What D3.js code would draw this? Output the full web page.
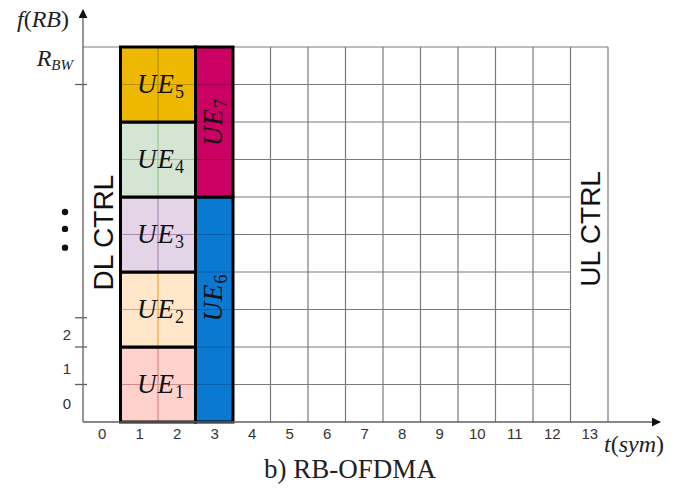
<!DOCTYPE html>
<html>
<head>
<meta charset="utf-8">
<script src="https://cdn.jsdelivr.net/npm/d3@7"></script>
<style>
  body { margin: 0; background: #fff; }
  svg { display: block; }
</style>
</head>
<body>
<svg id="chart" width="686" height="490"></svg>
<script>
"use strict"

// ---- data ----
const xTickLabels = ["0", "1", "2", "3", "4", "5", "6", "7", "8", "9", "10", "11", "12", "13"];
const nRows = 10;

// resource blocks, in columns (symbols) and rows (RBs)
const ueNames = ["1", "2", "3", "4", "5", "6", "7"];
const ueColStart = [1, 1, 1, 1, 1, 3, 3];
const ueColEnd = [3, 3, 3, 3, 3, 4, 4];
const ueRowStart = [0, 2, 4, 6, 8, 0, 6];
const ueRowEnd = [2, 4, 6, 8, 10, 6, 10];
const ueVertical = [false, false, false, false, false, true, true];
const ueFill = ["#ffd1cc", "#ffe6c9", "#e3d5e7", "#d5e5d3", "#efb800", "#0a79d2", "#cc0062"];
const ueGrid = ["#d08a88", "#f0a830", "#a88ab8", "#9cc494", "#b59000", "#0a5ea8", "#9a0050"];

// y axis marks
const yTickMarks = [1, 2, 2.78, 9];
const yTickLabels = ["0", "1", "2"];
const yTickLabelPos = [0.5, 1.45, 2.35];
const dotPos = [5.6, 5.15, 4.65];

// ---- layout ----
const svg = d3.select("#chart");
const x = d3.scaleLinear().domain([0, 14]).range([83, 608]);
const y = d3.scaleLinear().domain([0, nRows]).range([422, 47]);
const gridColor = "#7a7a7a";
const axisColor = "#606060";
const serif = "Liberation Serif, serif";
const sans = "Liberation Sans, Arial, sans-serif";

// arrow marker
svg.append("defs").append("marker")
    .attr("id", "arrow")
    .attr("viewBox", "0 0 10 10")
    .attr("refX", 9).attr("refY", 5)
    .attr("markerWidth", 9).attr("markerHeight", 9)
    .attr("markerUnits", "userSpaceOnUse")
    .attr("orient", "auto")
    .append("path")
    .attr("d", "M0,0 L10,5 L0,10 z")
    .attr("fill", "#111");

const grid = svg.append("g");

// horizontal grid lines in the free area (columns 4..12)
grid.selectAll("line.h")
    .data(d3.range(1, nRows))
    .join("line")
    .attr("x1", x(4)).attr("x2", x(13))
    .attr("y1", d => y(d)).attr("y2", d => y(d))
    .attr("stroke", gridColor).attr("stroke-width", 1.2);

// top border line
grid.append("line")
    .attr("x1", x(0)).attr("x2", x(14))
    .attr("y1", y(nRows)).attr("y2", y(nRows))
    .attr("stroke", gridColor).attr("stroke-width", 1.2);

// vertical grid lines
grid.selectAll("line.v")
    .data(d3.range(1, 15))
    .join("line")
    .attr("x1", d => x(d)).attr("x2", d => x(d))
    .attr("y1", y(0)).attr("y2", y(nRows))
    .attr("stroke", gridColor).attr("stroke-width", 1.2);

// UE blocks
const blocks = svg.append("g");
ueNames.forEach((name, i) => {
    const g = blocks.append("g");
    const x0 = x(ueColStart[i]), x1 = x(ueColEnd[i]);
    const y0 = y(ueRowEnd[i]), y1 = y(ueRowStart[i]);

    g.append("rect")
        .attr("x", x0).attr("y", y0)
        .attr("width", x1 - x0).attr("height", y1 - y0)
        .attr("fill", ueFill[i]);

    // inner grid lines tinted with the block color
    g.selectAll("line.ih")
        .data(d3.range(ueRowStart[i] + 1, ueRowEnd[i]))
        .join("line")
        .attr("x1", x0).attr("x2", x1)
        .attr("y1", d => y(d)).attr("y2", d => y(d))
        .attr("stroke", ueGrid[i]).attr("stroke-width", 1.2);
    g.selectAll("line.iv")
        .data(d3.range(ueColStart[i] + 1, ueColEnd[i]))
        .join("line")
        .attr("x1", d => x(d)).attr("x2", d => x(d))
        .attr("y1", y0).attr("y2", y1)
        .attr("stroke", ueGrid[i]).attr("stroke-width", 1.2);

    g.append("rect")
        .attr("x", x0).attr("y", y0)
        .attr("width", x1 - x0).attr("height", y1 - y0)
        .attr("fill", "none")
        .attr("stroke", "#000").attr("stroke-width", 3);

    const cx = (x0 + x1) / 2;
    const cy = (y0 + y1) / 2;
    const label = g.append("text")
        .attr("font-family", serif)
        .attr("font-style", "italic")
        .attr("font-size", 27)
        .attr("letter-spacing", 1)
        .attr("fill", "#111")
        .attr("text-anchor", "middle");
    if (ueVertical[i]) {
        // UE6 sits a little above the block centre
        const shift = ueRowStart[i] === 0 ? -12 : 0;
        label.attr("transform", `translate(${cx - 1},${cy + shift}) rotate(-90)`)
            .attr("y", 9);
    } else {
        label.attr("x", cx + 3).attr("y", cy + 8);
    }
    label.append("tspan").text("UE");
    label.append("tspan")
        .attr("font-size", 18)
        .attr("font-style", "normal")
        .attr("dy", 5)
        .text(name);
});

// control channel labels
svg.append("text")
    .attr("transform", `translate(${x(0.5) + 11},${y(5.05)}) rotate(-90)`)
    .attr("text-anchor", "middle")
    .attr("font-family", sans)
    .attr("font-size", 28)
    .attr("fill", "#111")
    .text("DL CTRL");

svg.append("text")
    .attr("transform", `translate(${x(13.5) + 11},${y(5.15)}) rotate(-90)`)
    .attr("text-anchor", "middle")
    .attr("font-family", sans)
    .attr("font-size", 28)
    .attr("fill", "#111")
    .text("UL CTRL");

// axes
const axes = svg.append("g");
axes.append("line")
    .attr("x1", x(0)).attr("x2", x(0))
    .attr("y1", y(0)).attr("y2", 10)
    .attr("stroke", axisColor).attr("stroke-width", 1.3)
    .attr("marker-end", "url(#arrow)");
axes.append("line")
    .attr("x1", x(0)).attr("x2", 660)
    .attr("y1", y(0)).attr("y2", y(0))
    .attr("stroke", axisColor).attr("stroke-width", 1.3)
    .attr("marker-end", "url(#arrow)");

// x tick labels at column centres
const xAxis = d3.axisBottom(x)
    .tickValues(d3.range(xTickLabels.length).map(i => i + 0.5))
    .tickFormat((d, i) => xTickLabels[i])
    .tickSize(0)
    .tickPadding(6);
const xg = axes.append("g")
    .attr("transform", `translate(0,${y(0)})`)
    .call(xAxis);
xg.select(".domain").remove();
xg.selectAll("text")
    .attr("font-family", sans)
    .attr("font-size", 15)
    .attr("fill", "#333");

// y tick marks crossing the axis
axes.selectAll("line.yt")
    .data(yTickMarks)
    .join("line")
    .attr("x1", x(0) - 8).attr("x2", x(0) + 4)
    .attr("y1", d => y(d)).attr("y2", d => y(d))
    .attr("stroke", axisColor).attr("stroke-width", 1.3);

axes.selectAll("text.yl")
    .data(yTickLabels)
    .join("text")
    .attr("x", 67)
    .attr("y", (d, i) => y(yTickLabelPos[i]) + 6)
    .attr("text-anchor", "middle")
    .attr("font-family", sans)
    .attr("font-size", 15)
    .attr("fill", "#333")
    .text(d => d);

// vertical ellipsis
axes.selectAll("circle")
    .data(dotPos)
    .join("circle")
    .attr("cx", 65)
    .attr("cy", d => y(d))
    .attr("r", 3.2)
    .attr("fill", "#111");

// R_BW label
const rbw = axes.append("text")
    .attr("x", 73).attr("y", 66)
    .attr("text-anchor", "end")
    .attr("font-family", serif)
    .attr("font-style", "italic")
    .attr("font-size", 24)
    .attr("fill", "#222");
rbw.append("tspan").text("R");
rbw.append("tspan").attr("font-size", 15).attr("dy", 4).text("BW");

// axis titles
const fTitle = axes.append("text")
    .attr("x", 43).attr("y", 27)
    .attr("text-anchor", "middle")
    .attr("font-family", serif)
    .attr("font-size", 24)
    .attr("fill", "#222");
fTitle.append("tspan").attr("font-style", "italic").text("f");
fTitle.append("tspan").text("(");
fTitle.append("tspan").attr("font-style", "italic").text("RB");
fTitle.append("tspan").text(")");

const tTitle = axes.append("text")
    .attr("x", 634).attr("y", 452)
    .attr("text-anchor", "middle")
    .attr("font-family", serif)
    .attr("font-size", 24)
    .attr("fill", "#222");
tTitle.append("tspan").attr("font-style", "italic").text("t");
tTitle.append("tspan").text("(");
tTitle.append("tspan").attr("font-style", "italic").text("sym");
tTitle.append("tspan").text(")");

// caption
svg.append("text")
    .attr("x", 350).attr("y", 478)
    .attr("text-anchor", "middle")
    .attr("font-family", serif)
    .attr("font-size", 27)
    .attr("fill", "#222")
    .text("b) RB-OFDMA");
</script>
</body>
</html>
